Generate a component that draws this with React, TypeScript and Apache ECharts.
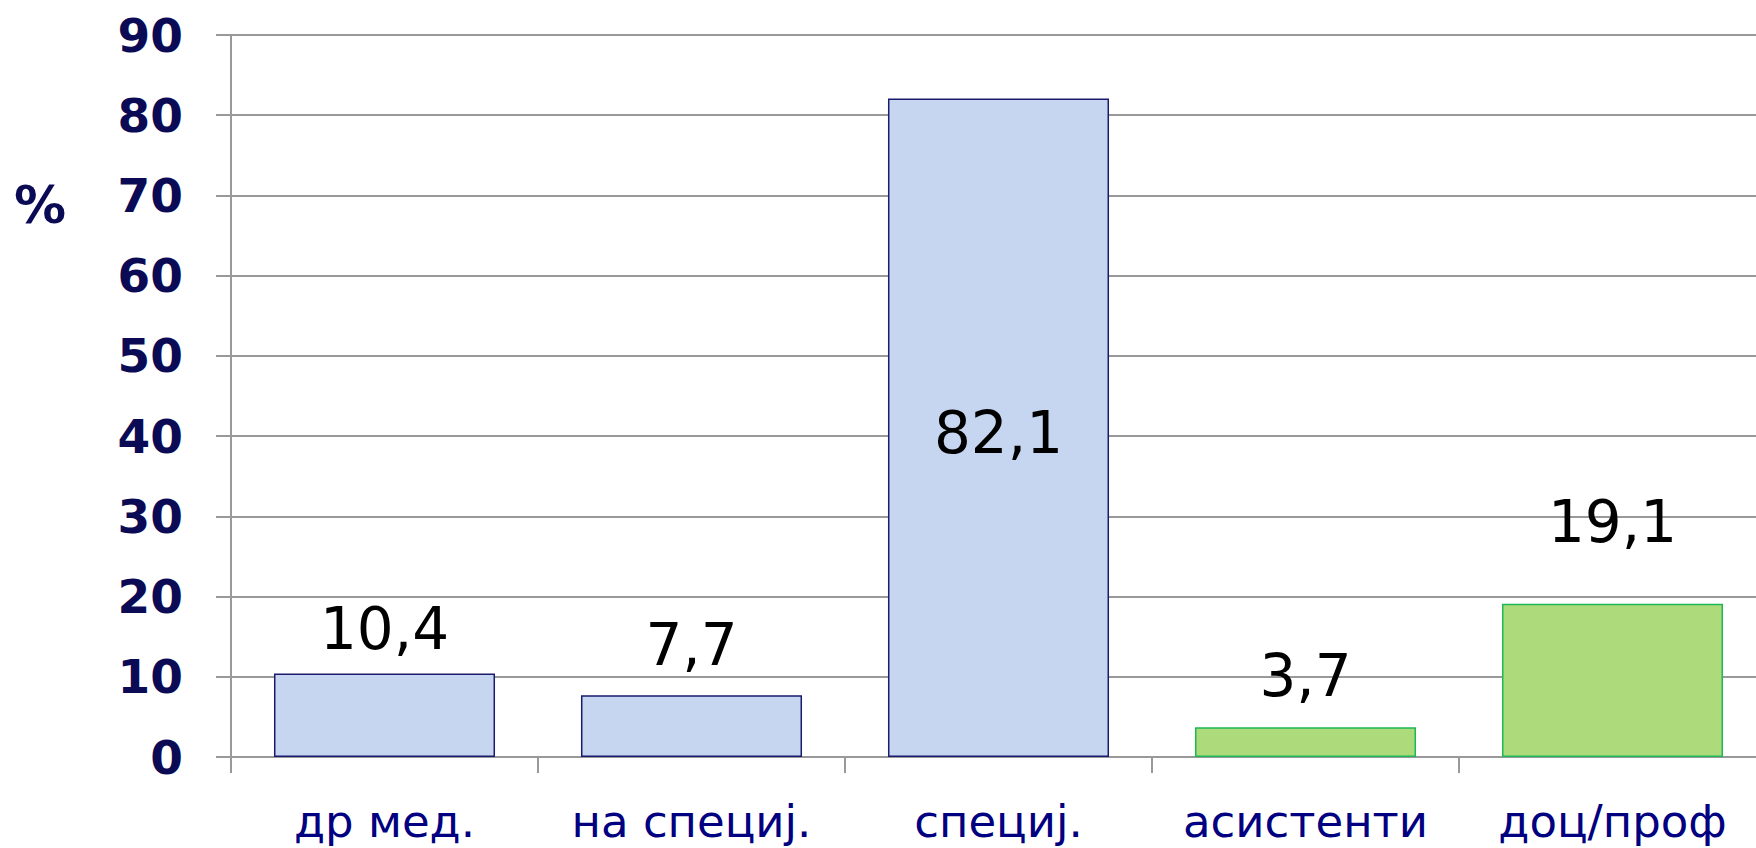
import React, { useEffect, useRef } from "react";
import * as echarts from "echarts";

const categories = ["др мед.", "на специј.", "специј.", "асистенти", "доц/проф"];
const values = [10.4, 7.7, 82.1, 3.7, 19.1];
const groups = ["blue", "blue", "blue", "green", "green"];
const yTicks = { min: 0, max: 90, interval: 10 };
const yAxisTitle = "%";

export default function App() {
  const ref = useRef<HTMLDivElement>(null);
  useEffect(() => {
    document.body.style.margin = "0";
    if (!ref.current) return;
    const chart = echarts.init(ref.current, null, { renderer: "svg" });
    const fill: Record<string, string> = { blue: "#C6D5F0", green: "#ADDA7A" };
    const stroke: Record<string, string> = { blue: "#1A1A6E", green: "#1DB954" };
    const labelDist = [16, 21, 0, 22, 53];
    const data = values.map((v, i) => ({
      value: v,
      itemStyle: { color: fill[groups[i]], borderColor: stroke[groups[i]], borderWidth: 1.5 },
      label:
        i === 2
          ? { position: "inside", offset: [0, 5] }
          : { position: "top", distance: labelDist[i] },
    }));
    chart.setOption({
      animation: false,
      grid: { left: 231, top: 35, width: 1535, bottom: 91, containLabel: false },
      graphic: [
        {
          type: "text",
          x: 14,
          y: 205,
          style: {
            text: yAxisTitle,
            font: "bold 52px 'DejaVu Sans'",
            fill: "#0B0B55",
            verticalAlign: "middle",
          },
        },
      ],
      xAxis: {
        type: "category",
        data: categories,
        axisLine: { show: true, lineStyle: { color: "#999999", width: 2 } },
        axisTick: { show: true, interval: 0, length: 16, lineStyle: { color: "#999999", width: 2 } },
        axisLabel: {
          interval: 0,
          hideOverlap: false,
          color: "#000080",
          fontFamily: "DejaVu Sans",
          fontSize: 45,
          margin: 42,
        },
      },
      yAxis: {
        type: "value",
        min: yTicks.min,
        max: yTicks.max,
        interval: yTicks.interval,
        axisLine: { show: true, lineStyle: { color: "#999999", width: 2 } },
        axisTick: { show: true, length: 15, lineStyle: { color: "#999999", width: 2 } },
        splitLine: { show: true, lineStyle: { color: "#999999", width: 2 } },
        axisLabel: {
          color: "#0B0B55",
          fontFamily: "DejaVu Sans",
          fontWeight: "bold",
          fontSize: 47,
          margin: 48,
        },
      },
      series: [
        {
          type: "bar",
          data,
          barCategoryGap: "28%",
          label: {
            show: true,
            color: "#000000",
            fontFamily: "DejaVu Sans",
            fontSize: 58,
            formatter: (p: any) => String(p.value).replace(".", ","),
          },
        },
      ],
    });
    return () => chart.dispose();
  }, []);
  return (
    <div style={{ width: 1756, height: 848, overflow: "hidden" }}>
      <div ref={ref} style={{ width: 1800, height: 848 }} />
    </div>
  );
}
